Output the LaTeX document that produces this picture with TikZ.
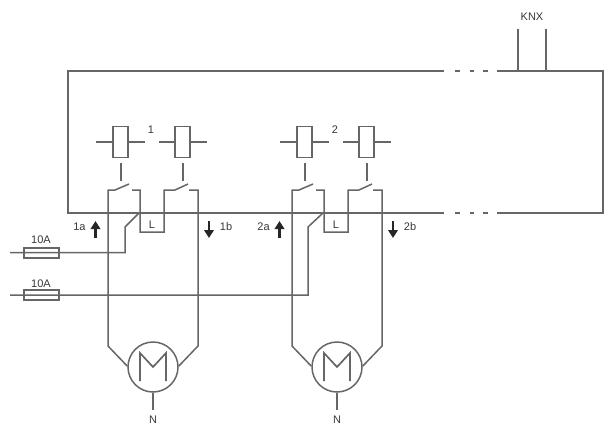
\documentclass[tikz,border=0pt]{standalone}
\usepackage{fontspec}
\setmainfont{Liberation Sans}
\usetikzlibrary{arrows.meta,calc}
\definecolor{wire}{HTML}{666666}
\tikzset{
  wireline/.style={draw=wire,line width=1.5pt},
  framedash/.style={draw=wire,line width=1.5pt},
  coilbox/.style={draw=wire,line width=1.5pt,minimum width=15pt,minimum height=31pt,inner sep=0pt},
  fusebox/.style={draw=wire,line width=1.4pt,minimum width=35pt,minimum height=10pt,inner sep=0pt},
  motorc/.style={draw=wire,line width=1.5pt,circle,minimum size=50pt,inner sep=0pt},
  lbl/.style={inner sep=0pt,text=black!78,font=\fontsize{11}{12}\selectfont},
  dirarrow/.style={draw=black!85,line width=2.4pt,-{Triangle[length=8pt,width=9.5pt]}}
}
\begin{document}
\begin{tikzpicture}[x=1pt,y=-1pt]
\useasboundingbox (0,0) rectangle (610,426);
% frame
\coordinate (tl) at (68,71); \coordinate (bl) at (68,213);
\coordinate (tr) at (603,71); \coordinate (br) at (603,213);
\coordinate (te) at (444,71); \coordinate (be) at (444,213);
\coordinate (ts) at (497,71); \coordinate (bs) at (497,213);
\draw[wireline] (te) -- (tl) -- (bl) -- (be);
\draw[wireline] (ts) -- (tr) -- (br) -- (bs);
\foreach \yy in {71,213}{
  \draw[framedash] (455,\yy) -- (460,\yy);
  \draw[framedash] (470,\yy) -- (474,\yy);
  \draw[framedash] (483,\yy) -- (488,\yy);
}
% KNX
\node[lbl] (knx) at (532,17) {KNX};
\coordinate (k1) at (518,29); \coordinate (k2) at (546,29);
\coordinate (k1b) at (518,71); \coordinate (k2b) at (546,71);
\draw[wireline] (k1) -- (k1b);
\draw[wireline] (k2) -- (k2b);
% channels
\foreach \g/\dx/\num in {a/0/1,b/184/2}{
\begin{scope}[shift={(\dx,0)}]
  \node[coilbox] (\g c1) at (120.5,142) {};
  \node[coilbox] (\g c2) at (182.5,142) {};
  \coordinate (\g l1) at (96,142); \coordinate (\g r1) at (145,142);
  \coordinate (\g l2) at (159,142); \coordinate (\g r2) at (207,142);
  \draw[wireline] (\g l1) -- (\g c1.west);
  \draw[wireline] (\g c1.east) -- (\g r1);
  \draw[wireline] (\g l2) -- (\g c2.west);
  \draw[wireline] (\g c2.east) -- (\g r2);
  \node[lbl] (\g num) at (151,130) {\num};
  % actuators
  \draw[wireline] (121,163) -- (121,181);
  \draw[wireline] (183,163) -- (183,181);
  % motor
  \node[motorc] (\g m) at (153,367) {};
  \draw[wire,line width=1.7pt,line join=miter] (140,381) -- (140,353) -- (153,367) -- (166,353) -- (166,381);
  % switch 1 and outer wire
  \draw[wireline,line join=miter] (\g m.178) -- (108,346) -- (108,190) -- (115,190) -- (129,184);
  % middle loop with L
  \draw[wireline,line join=miter] (132,190) -- (140,190) -- (140,232) -- (164,232) -- (164,190) -- (175,190) -- (188,184);
  % switch 2 outer wire
  \draw[wireline,line join=miter] (189,190) -- (198,190) -- (198,346) -- (\g m.2);
  \node[lbl] (\g L) at (152,225) {L};
  % neutral
  \coordinate (\g n) at (153,410);
  \draw[wire,line width=1.3pt] (\g m.south) -- (\g n);
  \node[lbl] (\g N) at (153,420) {N};
  % arrows
  \draw[dirarrow] (95.5,238) -- (95.5,221);
  \draw[dirarrow] (209,221) -- (209,238);
  \node[lbl] (\g la) at (79.5,227) {\num a};
  \node[lbl] (\g lb) at (226,227) {\num b};
\end{scope}
}
% feeds
\node[fusebox] (f1) at (41.5,253) {};
\node[fusebox] (f2) at (41.5,295) {};
\node[lbl] (f1t) at (41,240) {10A};
\node[lbl] (f2t) at (41,284) {10A};
\coordinate (s1) at (10,252.5); \coordinate (s2) at (10,295);
\draw[wireline,line join=miter] (s1) -- (125,252.5) -- (125,227) -- (139,213);
\draw[wireline,line join=miter] (s2) -- (308,295) -- (308,227) -- (323,213);
\end{tikzpicture}
\end{document}
